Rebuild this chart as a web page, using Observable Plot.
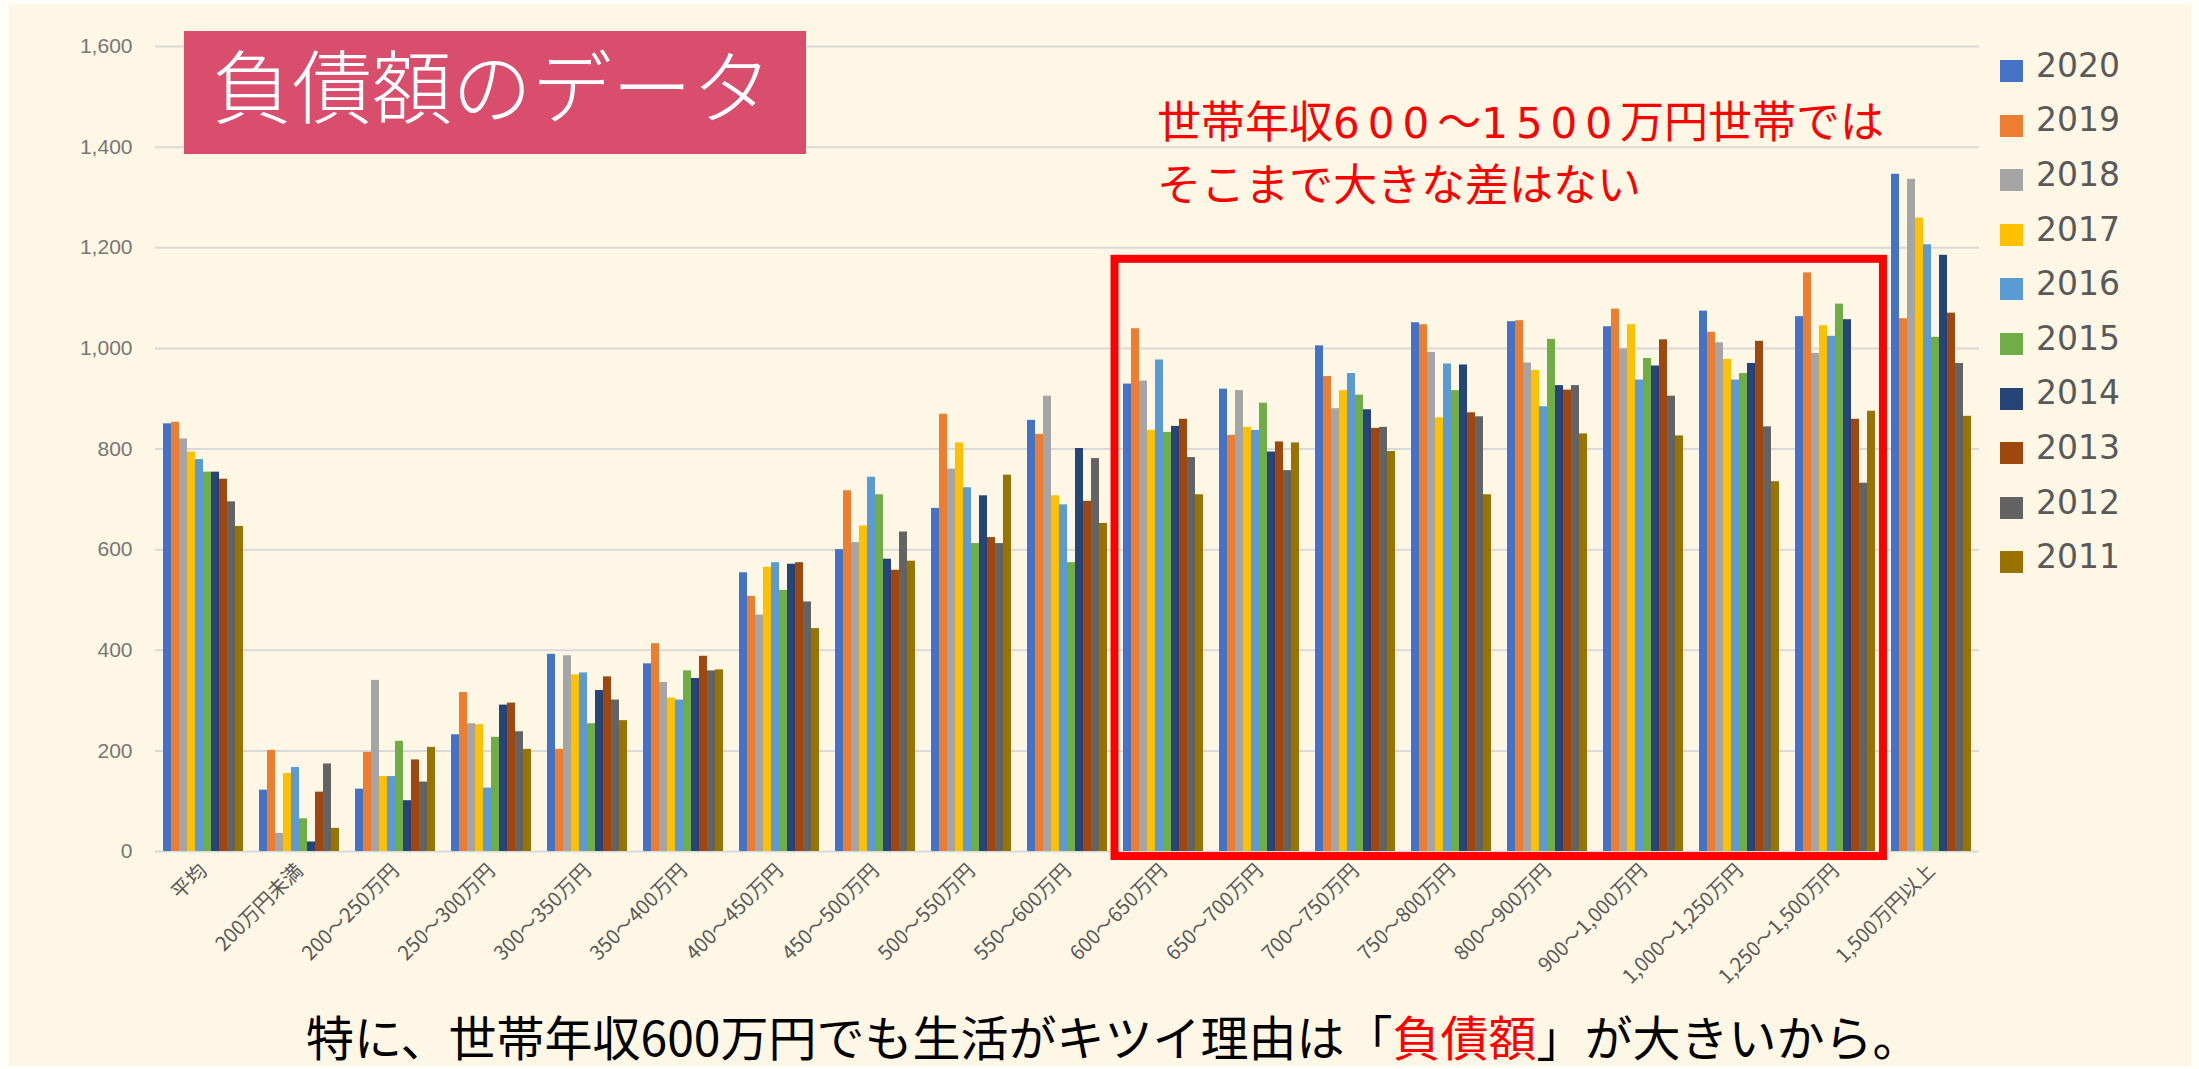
<!DOCTYPE html>
<html>
<head>
<meta charset="utf-8">
<script src="https://cdn.jsdelivr.net/npm/d3@7"></script>
<script src="https://cdn.jsdelivr.net/npm/@observablehq/plot@0.6"></script>
<style>
  html, body { margin: 0; padding: 0; background: #FFFDF7; }
  #wrap { position: relative; width: 2199px; height: 1069px; overflow: hidden; }
  #bg { position: absolute; left: 9px; top: 4px; right: 8px; bottom: 3px; background: #FFF7E5; }
  #chart { position: absolute; left: 0; top: 0; }
  #titlebox { position: absolute; left: 184px; top: 31px; width: 622px; height: 123px; background: #DA4E6D; }
  #titlebox span { position: absolute; left: 28px; top: 11px; font-family: "Noto Sans CJK JP", sans-serif; font-size: 80px; line-height: 80px; color: #fff; font-weight: 300; white-space: nowrap; }
  #note { position: absolute; left: 1157px; top: 90px; font-family: "Noto Sans CJK JP", sans-serif; font-size: 44px; line-height: 58px; color: #FF0000; white-space: nowrap; }
  #note .d { font-family: "DejaVu Sans", sans-serif; font-size: 42px; letter-spacing: 8px; }
  #legend { position: absolute; left: 2000px; top: 0; font-family: "DejaVu Sans", Verdana, sans-serif; font-size: 33px; color: #595959; }
  #legend .sw { position: absolute; width: 23px; height: 22px; left: 0; }
  #legend .lb { position: absolute; left: 36px; line-height: 33px; white-space: nowrap; }
  #caption { position: absolute; left: 306px; top: 1011px; font-family: "Noto Sans CJK JP", sans-serif; font-size: 48px; line-height: 48px; color: #000; font-weight: 400; white-space: nowrap; }
  #caption .r { color: #FF0000; }
</style>
</head>
<body>
<div id="wrap">
  <div id="bg"></div>
  <div id="chart"></div>
  <div id="titlebox"><span>負債額のデータ</span></div>
  <div id="note">世帯年収<span class="d">600</span>～<span class="d">1500</span>万円世帯では<br>そこまで大きな差はない</div>
  <div id="legend"></div>
  <div id="caption">特に、世帯年収600万円でも生活がキツイ理由は「<span class="r">負債額</span>」が大きいから。</div>
</div>
<script>
const categories = ["平均", "200万円未満", "200～250万円", "250～300万円", "300～350万円", "350～400万円",
  "400～450万円", "450～500万円", "500～550万円", "550～600万円", "600～650万円", "650～700万円",
  "700～750万円", "750～800万円", "800～900万円", "900～1,000万円", "1,000～1,250万円", "1,250～1,500万円", "1,500万円以上"];
const years = ["2020", "2019", "2018", "2017", "2016", "2015", "2014", "2013", "2012", "2011"];
const colors = ["#4472C4", "#ED7D31", "#A5A5A5", "#FFC000", "#5B9BD5", "#70AD47", "#264478", "#9E480E", "#636363", "#997300"];

const v2020 = [850, 122, 124, 232, 392, 373, 554, 600, 682, 857, 929, 919, 1005, 1051, 1053, 1043, 1074, 1063, 1346];
const v2019 = [853, 201, 197, 316, 203, 413, 507, 717, 869, 829, 1039, 827, 944, 1047, 1055, 1078, 1032, 1150, 1059];
const v2018 = [820, 36, 340, 254, 389, 336, 470, 614, 760, 905, 935, 916, 880, 992, 971, 999, 1011, 990, 1336];
const v2017 = [794, 155, 149, 252, 351, 305, 565, 647, 812, 707, 837, 843, 916, 862, 956, 1047, 978, 1045, 1259];
const v2016 = [779, 167, 149, 126, 355, 301, 574, 744, 723, 689, 977, 837, 950, 969, 884, 937, 937, 1024, 1206];
const v2015 = [754, 65, 219, 227, 254, 359, 519, 709, 612, 574, 833, 891, 907, 916, 1018, 980, 950, 1088, 1022];
const v2014 = [754, 19, 101, 291, 320, 344, 571, 581, 707, 801, 845, 794, 878, 967, 926, 965, 970, 1057, 1185];
const v2013 = [740, 118, 182, 295, 347, 388, 574, 559, 624, 696, 859, 814, 841, 872, 917, 1017, 1014, 859, 1070];
const v2012 = [695, 174, 138, 238, 301, 359, 496, 635, 612, 781, 783, 757, 843, 864, 926, 905, 844, 732, 970];
const v2011 = [646, 46, 207, 203, 260, 361, 443, 577, 748, 652, 709, 812, 795, 709, 830, 826, 735, 875, 865];
const seriesValues = [v2020, v2019, v2018, v2017, v2016, v2015, v2014, v2013, v2012, v2011];

const yTicks = [0, 200, 400, 600, 800, 1000, 1200, 1400, 1600];

// highlighted range annotation (categories and value extent)
const boxFrom = "600～650万円";
const boxTo = "1,250～1,500万円";
const boxTop = 1177;
const boxBottom = -10;

const data = [];
categories.forEach((c, i) => years.forEach((yr, j) => data.push({category: c, year: yr, value: seriesValues[j][i]})));

const plot = Plot.plot({
  width: 2199,
  height: 1069,
  marginLeft: 154,
  marginRight: 220,
  marginTop: 46,
  marginBottom: 218,
  style: {background: "transparent", fontFamily: "'Liberation Sans', Arial, sans-serif", fontSize: "21px", color: "#767676"},
  fx: {domain: categories, padding: 0, axis: "bottom", label: null, tickRotate: -45, tickSize: 0, tickPadding: 16},
  x: {domain: years, paddingInner: 0, paddingOuter: 0.75, axis: null},
  y: {domain: [0, 1600], ticks: yTicks, tickFormat: d3.format(","), tickSize: 0, tickPadding: 23, label: null},
  color: {domain: years, range: colors},
  marks: [
    Plot.ruleY(yTicks, {stroke: "#D9D9D9", strokeWidth: 2}),
    Plot.barY(data, {fx: "category", x: "year", y: "value", fill: "year", inset: 0})
  ]
});
document.getElementById("chart").appendChild(plot);

const svg = d3.select(plot);
svg.selectAll('g[aria-label^="fx-axis"] text')
  .style("font-family", "'Noto Sans CJK JP', sans-serif")
  .style("font-size", "20px")
  .style("fill", "#595959");

// red annotation box, positioned through the plot's own scales
const fxS = plot.scale("fx");
const yS = plot.scale("y");
const band = d3.scaleBand().domain(fxS.domain).range(fxS.range)
  .paddingInner(fxS.paddingInner || 0).paddingOuter(fxS.paddingOuter || 0).align(fxS.align ?? 0.5);
const bx1 = band(boxFrom);
const bx2 = band(boxTo) + band.bandwidth();
const by1 = yS.apply(boxTop);
const by2 = yS.apply(boxBottom);
svg.append("rect")
  .attr("x", bx1).attr("y", by1)
  .attr("width", bx2 - bx1).attr("height", by2 - by1)
  .attr("fill", "none").attr("stroke", "#FF0000").attr("stroke-width", 8);

// legend
const colorS = plot.scale("color");
const legend = document.getElementById("legend");
years.forEach((yr, i) => {
  const sw = document.createElement("div");
  sw.className = "sw";
  sw.style.top = (60 + i * 54.6) + "px";
  sw.style.background = colorS.apply(yr);
  const lb = document.createElement("div");
  lb.className = "lb";
  lb.style.top = (48.8 + i * 54.6) + "px";
  lb.textContent = yr;
  legend.appendChild(sw);
  legend.appendChild(lb);
});
</script>
</body>
</html>
